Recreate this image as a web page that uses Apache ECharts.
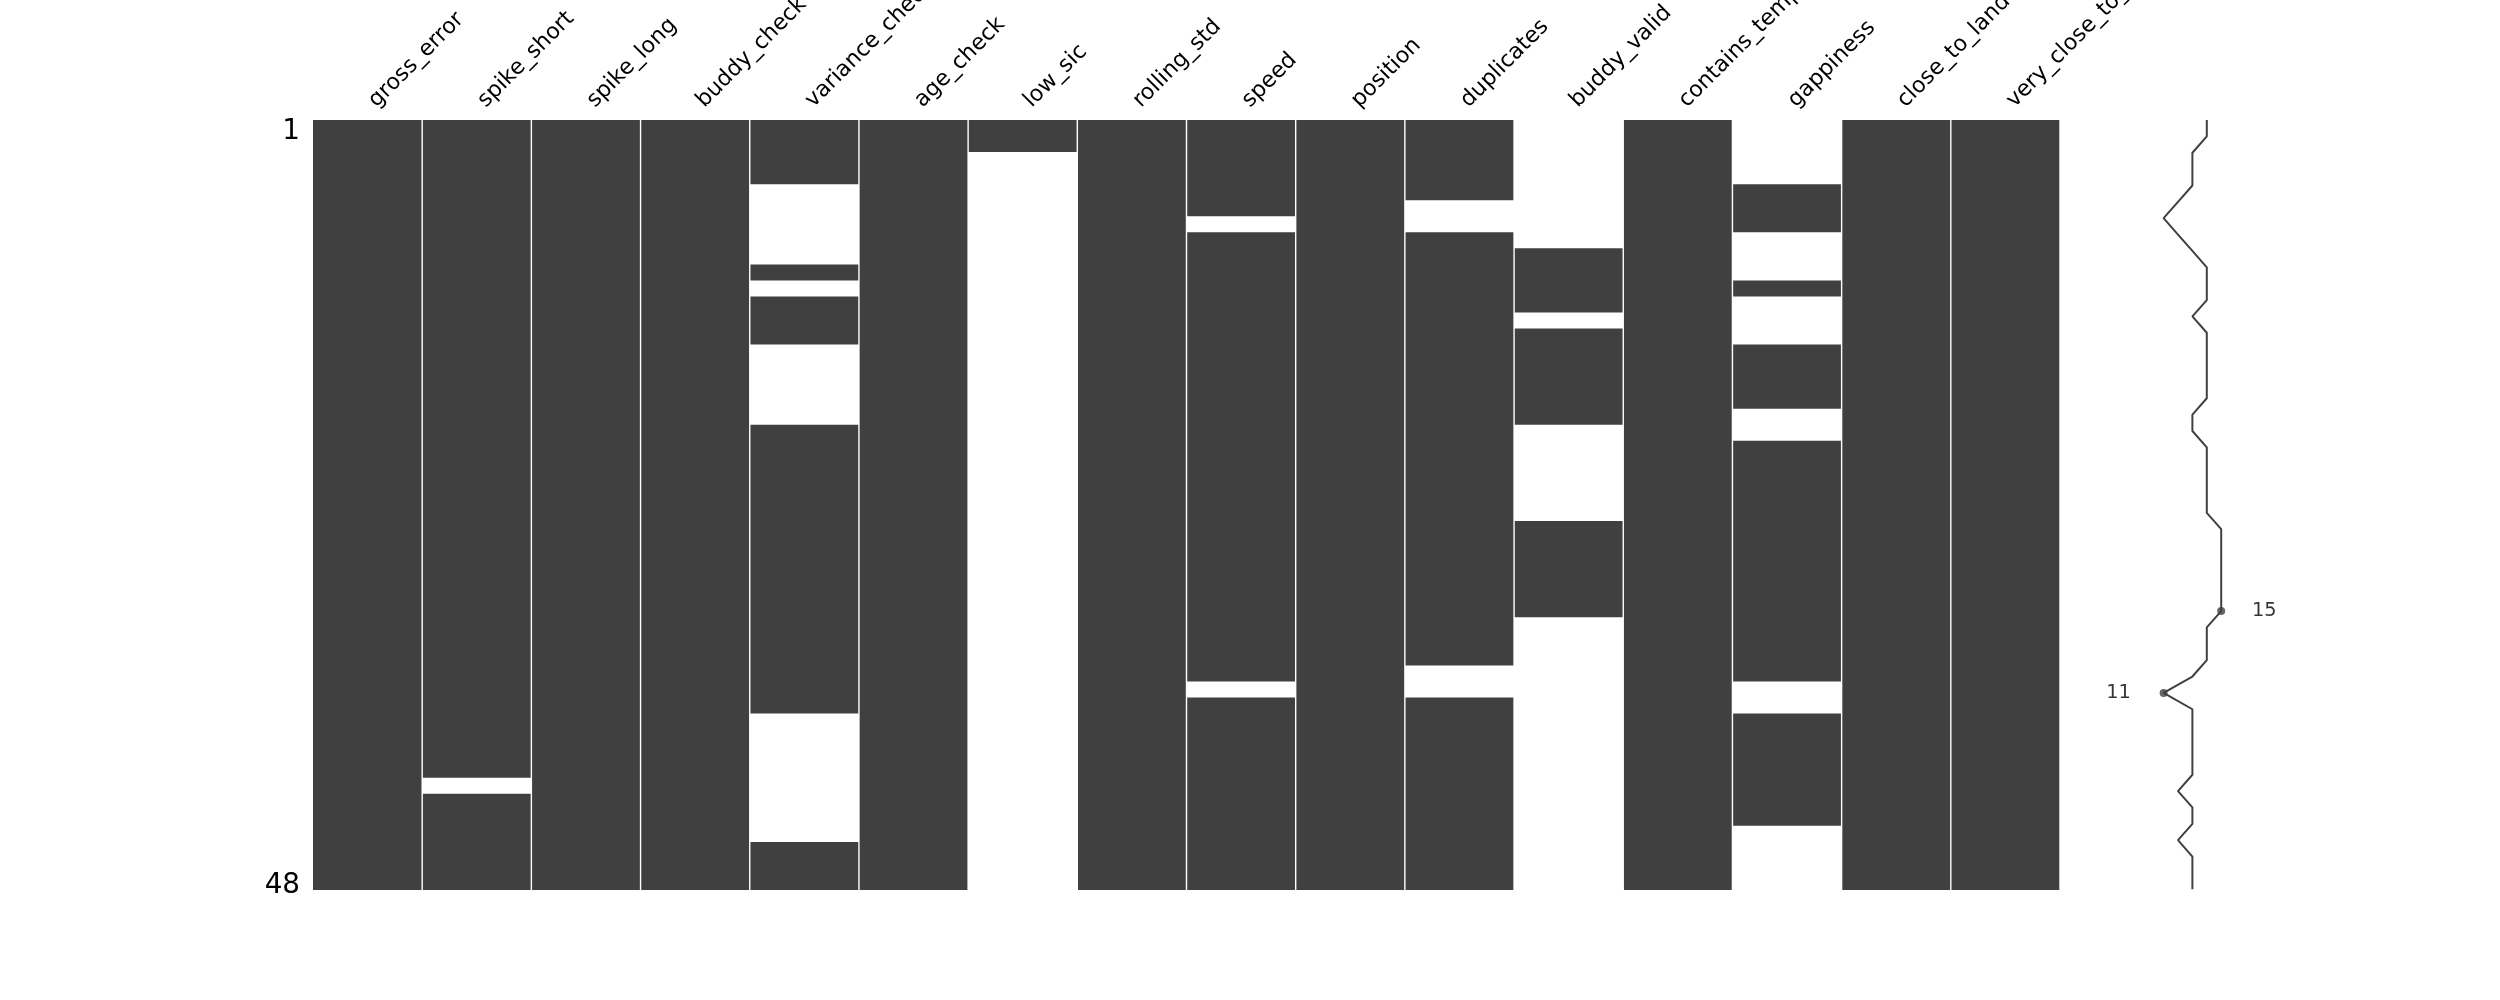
<!DOCTYPE html>
<html>
<head>
<meta charset="utf-8">
<script src="https://cdn.jsdelivr.net/npm/echarts@6/dist/echarts.min.js"></script>
<style>
html,body{margin:0;padding:0;background:#ffffff;}
#chart{width:2500px;height:1000px;}
</style>
</head>
<body>
<div id="chart"></div>
<script>
// Column names (missingno matrix)
const columns = [
  'gross_error', 'spike_short', 'spike_long', 'buddy_check', 'variance_check',
  'age_check', 'low_sic', 'rolling_std', 'speed', 'position', 'duplicates',
  'buddy_valid', 'contains_temperature', 'gappiness', 'close_to_land', 'very_close_to_land'
];

// Presence per column for the 48 rows: 1 = value present, 0 = missing (groups of 8 rows)
const presence = [
  '11111111 11111111 11111111 11111111 11111111 11111111', // gross_error
  '11111111 11111111 11111111 11111111 11111111 10111111', // spike_short
  '11111111 11111111 11111111 11111111 11111111 11111111', // spike_long
  '11111111 11111111 11111111 11111111 11111111 11111111', // buddy_check
  '11110000 01011100 00011111 11111111 11111000 00000111', // variance_check
  '11111111 11111111 11111111 11111111 11111111 11111111', // age_check
  '11000000 00000000 00000000 00000000 00000000 00000000', // low_sic
  '11111111 11111111 11111111 11111111 11111111 11111111', // rolling_std
  '11111101 11111111 11111111 11111111 11101111 11111111', // speed
  '11111111 11111111 11111111 11111111 11111111 11111111', // position
  '11111001 11111111 11111111 11111111 11001111 11111111', // duplicates
  '00000000 11110111 11100000 01111110 00000000 00000000', // buddy_valid
  '11111111 11111111 11111111 11111111 11111111 11111111', // contains_temperature
  '00001110 00100011 11001111 11111111 11100111 11110000', // gappiness
  '11111111 11111111 11111111 11111111 11111111 11111111', // close_to_land
  '11111111 11111111 11111111 11111111 11111111 11111111'  // very_close_to_land
];

// Y tick labels (first and last row)
const rowTickLabels = ['1', '48'];

const FONT = '"DejaVu Sans", sans-serif';
const DARK = '#404040';

const cells = presence.map(s => s.replace(/ /g, '').split('').map(Number));
const nRows = cells[0].length;
const rowCategories = Array.from({length: nRows}, (_, i) => String(i + 1));

// Runs of present values per column
const runs = [];
cells.forEach((col, c) => {
  let start = -1;
  for (let r = 0; r <= nRows; r++) {
    const v = r < nRows ? col[r] : 0;
    if (v === 1 && start < 0) start = r;
    if (v !== 1 && start >= 0) { runs.push([c, start, r - 1]); start = -1; }
  }
});

// Row completeness (sparkline)
const completeness = [];
for (let r = 0; r < nRows; r++) {
  let s = 0;
  cells.forEach(col => { s += col[r]; });
  completeness.push(s);
}
const maxC = Math.max(...completeness);
const minC = Math.min(...completeness);
const maxIdx = completeness.lastIndexOf(maxC);
const minIdx = completeness.lastIndexOf(minC);
const sparkData = completeness.map((v, r) => [v, r]);

const chart = echarts.init(document.getElementById('chart'), null, {renderer: 'canvas'});
chart.setOption({
  animation: false,
  backgroundColor: '#ffffff',
  grid: [
    {left: 313, right: 440, top: 120, bottom: 110, containLabel: false, outerBoundsMode: 'none'},
    {left: 2134.8, right: 250, top: 120, bottom: 110.7, containLabel: false, outerBoundsMode: 'none'}
  ],
  xAxis: [
    {
      gridIndex: 0, type: 'category', position: 'top', data: columns,
      axisLine: {show: false}, axisTick: {show: false}, splitLine: {show: false},
      axisLabel: {
        interval: 0, rotate: -45, align: 'left', verticalAlign: 'middle',
        margin: 11, padding: [0, 0, 0, 7], fontSize: 22.2, color: '#000000', fontFamily: FONT,
        hideOverlap: false
      }
    },
    {gridIndex: 1, type: 'value', min: minC - 2, max: maxC + 2, show: false}
  ],
  yAxis: [
    {
      gridIndex: 0, type: 'category', inverse: true, data: rowCategories,
      axisLine: {show: false}, axisTick: {show: false}, splitLine: {show: false},
      axisLabel: {
        interval: (i) => i === 0 || i === nRows - 1,
        formatter: (v, i) => '{t|' + (i === 0 ? rowTickLabels[0] : rowTickLabels[1]) + '}',
        margin: 13, verticalAlign: 'middle',
        rich: {
          t: {fontSize: 27.8, color: '#000000', fontFamily: FONT, padding: [7, 0, 0, 0]}
        }
      }
    },
    {gridIndex: 1, type: 'value', inverse: true, min: 0, max: nRows - 1, show: false}
  ],
  series: [
    {
      type: 'custom', xAxisIndex: 0, yAxisIndex: 0, data: runs,
      encode: {x: 0, y: 1},
      renderItem: function (params, api) {
        const col = api.value(0), s = api.value(1), e = api.value(2);
        const p0 = api.coord([col, s]);
        const p1 = api.coord([col, e]);
        const size = api.size([1, 1]);
        const w = size[0], h = size[1];
        let x0 = p0[0] - w / 2, x1 = p0[0] + w / 2;
        if (col > 0) x0 += 0.7;
        x1 -= 0.7;
        const y0 = Math.min(p0[1], p1[1]) - h / 2;
        const y1 = Math.max(p0[1], p1[1]) + h / 2;
        return {
          type: 'rect',
          shape: {x: x0, y: y0, width: x1 - x0, height: y1 - y0},
          style: {fill: DARK}
        };
      }
    },
    {
      type: 'line', xAxisIndex: 1, yAxisIndex: 1, data: sparkData,
      symbol: 'none', lineStyle: {color: DARK, width: 2}, silent: true
    },
    {
      type: 'scatter', xAxisIndex: 1, yAxisIndex: 1,
      data: [[maxC, maxIdx], [minC, minIdx]],
      symbolSize: 8, itemStyle: {color: DARK}, silent: true
    },
    {
      type: 'scatter', xAxisIndex: 1, yAxisIndex: 1,
      data: [[maxC + 2, maxIdx, maxC]], symbolSize: 0, silent: true,
      label: {show: true, position: 'right', distance: 2, formatter: p => String(p.value[2]),
        fontSize: 19.4, color: '#000000', fontFamily: FONT}
    },
    {
      type: 'scatter', xAxisIndex: 1, yAxisIndex: 1,
      data: [[minC - 2, minIdx, minC]], symbolSize: 0, silent: true,
      label: {show: true, position: 'left', distance: 4, formatter: p => String(p.value[2]),
        fontSize: 19.4, color: '#000000', fontFamily: FONT}
    }
  ]
});
</script>
</body>
</html>
